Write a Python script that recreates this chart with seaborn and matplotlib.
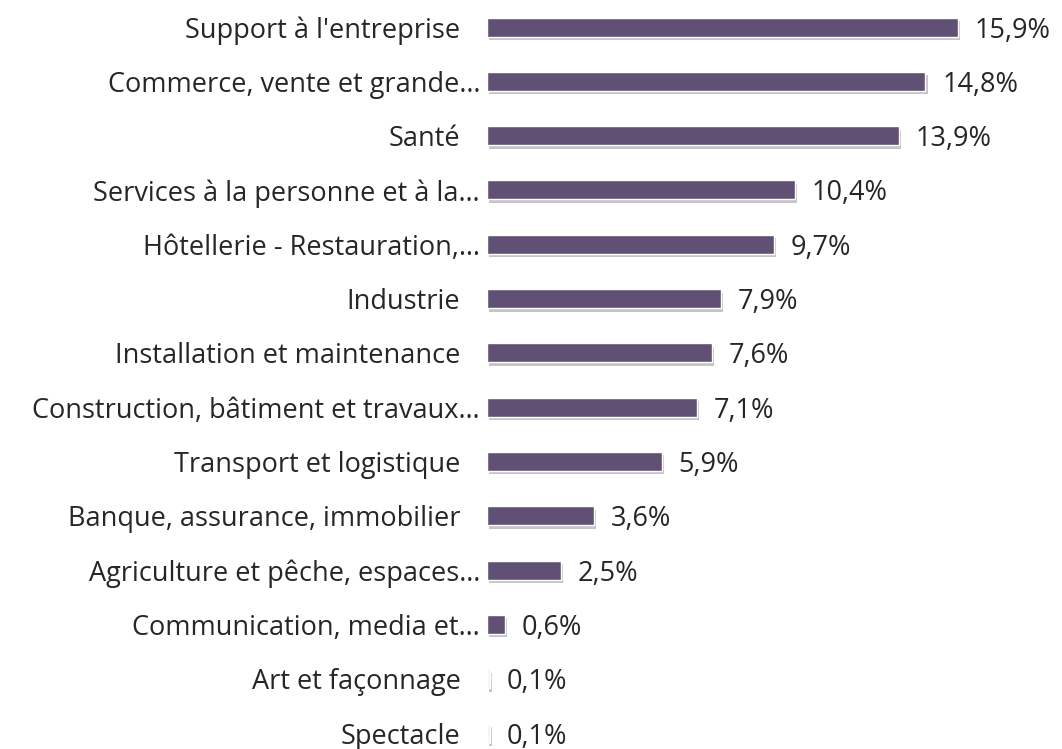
import matplotlib
matplotlib.use("Agg")
import matplotlib.pyplot as plt
import matplotlib.patheffects as pe
import pandas as pd
import seaborn as sns

categories = [
    "Support à l'entreprise",
    "Commerce, vente et grande…",
    "Santé",
    "Services à la personne et à la…",
    "Hôtellerie - Restauration,…",
    "Industrie",
    "Installation et maintenance",
    "Construction, bâtiment et travaux…",
    "Transport et logistique",
    "Banque, assurance, immobilier",
    "Agriculture et pêche, espaces…",
    "Communication, media et…",
    "Art et façonnage",
    "Spectacle",
]
values = [15.9, 14.8, 13.9, 10.4, 9.7, 7.9, 7.6, 7.1, 5.9, 3.6, 2.5, 0.6, 0.1, 0.1]

df = pd.DataFrame({"categorie": categories, "part": values})

sns.set_style("white")
plt.rcParams["font.family"] = ["Open Sans", "DejaVu Sans"]

fig = plt.figure(figsize=(10.62, 7.49), dpi=100)
ax = fig.add_axes([0.4586, -0.0149, 0.53, 1.0151])

colors = ["#5f4b7a" if v >= 0.5 else "#f4f4f4" for v in values]
sns.barplot(data=df, x="part", y="categorie", hue="categorie", palette=colors,
            legend=False, width=0.35, ax=ax)

for bar in ax.patches:
    bar.set_path_effects([
        pe.SimplePatchShadow(offset=(1.5, -2.5), shadow_rgbFace="gray", alpha=0.45),
        pe.Normal(),
    ])

for cont in ax.containers:
    txts = ax.bar_label(cont, labels=[f"{v:.1f}%".replace(".", ",") for v in cont.datavalues],
                        padding=12, fontsize=19.5)
    for t in txts:
        t.set_verticalalignment("center_baseline")

ax.set_xlim(0, 19)
ax.set_xlabel("")
ax.set_ylabel("")
ax.set_xticks([])
ax.tick_params(axis="y", length=0, pad=5, labelsize=19.5)
# labels without ellipsis sit a bit further left in the original
for lab in ax.get_yticklabels():
    lab.set_verticalalignment("center_baseline")
    if not lab.get_text().endswith("…"):
        lab.set_x(-0.035)
sns.despine(ax=ax, left=True, bottom=True)

fig.savefig("out.png", dpi=100)
